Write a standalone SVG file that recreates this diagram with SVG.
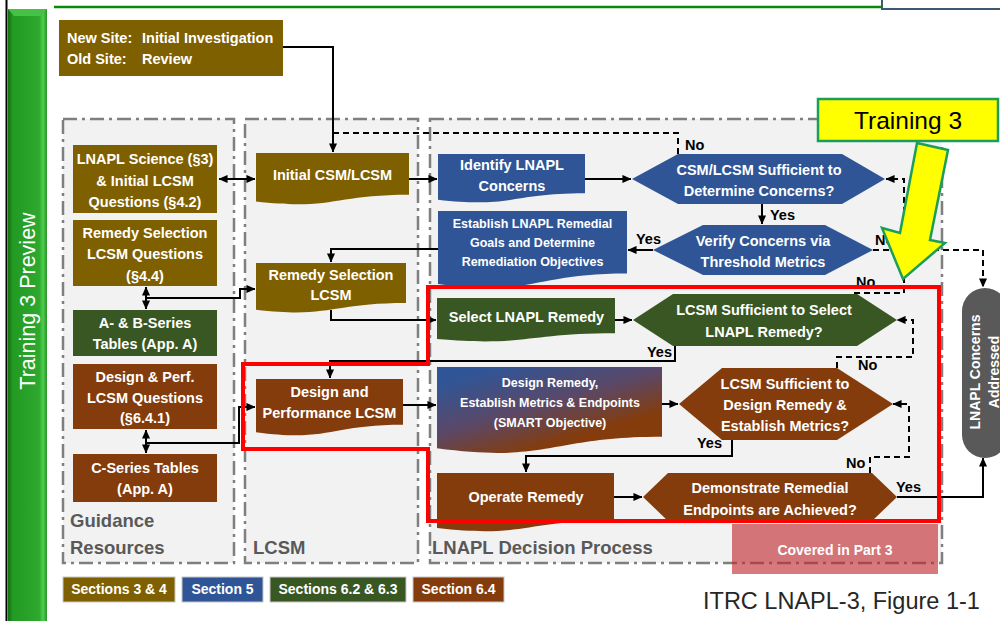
<svg xmlns="http://www.w3.org/2000/svg" width="1000" height="621" viewBox="0 0 1000 621">
<defs>
<marker id="ah" viewBox="0 0 10 10" refX="9.5" refY="5" markerWidth="9" markerHeight="9" markerUnits="userSpaceOnUse" orient="auto-start-reverse"><path d="M0,0.5 L10,5 L0,9.5 z" fill="#000"/></marker>
<linearGradient id="gbar" x1="0" y1="0" x2="1" y2="0">
<stop offset="0" stop-color="#136d13"/><stop offset="0.12" stop-color="#239a23"/><stop offset="0.8" stop-color="#2ea82e"/><stop offset="0.9" stop-color="#4dcf4d"/><stop offset="1" stop-color="#2a8f2a"/>
</linearGradient>
<linearGradient id="gdr" x1="0" y1="0" x2="0.75" y2="1">
<stop offset="0.12" stop-color="#2f5597"/><stop offset="0.5" stop-color="#5a4868"/><stop offset="0.82" stop-color="#843c0c"/>
</linearGradient>
</defs>
<style>
text{font-family:"Liberation Sans",Arial,sans-serif}
.o{fill:#7f6000}.b{fill:#2f5597}.g{fill:#385723}.r{fill:#843c0c}
.t{fill:#fff;font-weight:bold;font-size:14.5px;text-anchor:middle}
.ts{fill:#fff;font-weight:bold;font-size:12.5px;text-anchor:middle}
.c{stroke:#000;stroke-width:2;fill:none}
.d{stroke-dasharray:6 4}
.l{fill:#000;font-weight:bold;font-size:14.5px}
.p{fill:#f2f2f2;stroke:#7f7f7f;stroke-width:2.5;stroke-dasharray:14 5 3 5}
.pt{fill:#595959;font-size:18.5px;font-weight:bold}
.lg{stroke:#c8c8c8;stroke-width:1}
.lt{fill:#fff;font-weight:bold;font-size:14px;text-anchor:middle}
</style>
<rect width="1000" height="621" fill="#fff"/>
<!-- frame -->
<line x1="6.5" y1="0" x2="6.5" y2="621" stroke="#000" stroke-width="2"/>
<rect x="8" y="9" width="39" height="614" fill="url(#gbar)"/>
<polygon points="8,9 47,9 41,16 14,16" fill="#45c145"/>
<text transform="translate(35,301) rotate(-90)" text-anchor="middle" font-size="21.5" fill="#fff">Training 3 Preview</text>
<line x1="54" y1="7" x2="882" y2="7" stroke="#0a8a0a" stroke-width="2.5"/>
<rect x="882" y="-10" width="125" height="19" fill="#fff" stroke="#3d5a75" stroke-width="2"/>
<!-- panels -->
<g id="panels">
<rect class="p" x="63" y="119" width="171" height="444"/>
<rect class="p" x="245" y="119" width="173" height="444"/>
<rect class="p" x="430" y="119" width="512" height="444"/>
<text class="pt" x="70" y="527">Guidance</text>
<text class="pt" x="70" y="554">Resources</text>
<text class="pt" x="253" y="554">LCSM</text>
<text class="pt" x="432" y="554">LNAPL Decision Process</text>
</g>
<g id="covered">
<rect x="732" y="524" width="206" height="50" fill="#c0272d" fill-opacity="0.62"/>
<text class="lt" x="835" y="555">Covered in Part 3</text>
</g>
<!-- connectors -->
<g id="connectors">
<path class="c" d="M283,47 H333 V152" marker-end="url(#ah)"/>
<path class="c d" d="M678,154 V133 H333"/>
<path class="c" d="M219,179 H255" marker-start="url(#ah)" marker-end="url(#ah)"/>
<path class="c" d="M409,179 H437" marker-end="url(#ah)"/>
<path class="c" d="M585,179 H631" marker-end="url(#ah)"/>
<path class="c" d="M762,204 V224" marker-end="url(#ah)"/>
<path class="c" d="M653,250 H628" marker-end="url(#ah)"/>
<path class="c" d="M438,249 H331 V262" marker-end="url(#ah)"/>
<path class="c d" d="M873,250 H983 V287" marker-end="url(#ah)"/>
<path class="c" d="M146,287 V309" marker-start="url(#ah)" marker-end="url(#ah)"/>
<path class="c" d="M146,298 H240 V289 H255" marker-end="url(#ah)"/>
<path class="c" d="M331,310 V320 H436" marker-end="url(#ah)"/>
<path class="c" d="M615,320 H632" marker-end="url(#ah)"/>
<path class="c" d="M675,346 V361 H330 V378" marker-end="url(#ah)"/>
<path class="c d" d="M855,294 V293 H904 V179 H886" marker-end="url(#ah)"/>
<path class="c" d="M403,405 H436" marker-end="url(#ah)"/>
<path class="c" d="M662,404 H678" marker-end="url(#ah)"/>
<path class="c d" d="M837,368 V357 H913 V320 H897" marker-end="url(#ah)"/>
<path class="c" d="M732,440 V456 H526 V472" marker-end="url(#ah)"/>
<path class="c" d="M614,497 H642" marker-end="url(#ah)"/>
<path class="c d" d="M870,473 V457 H909 V404 H893" marker-end="url(#ah)"/>
<path class="c" d="M897,497 H983 V458" marker-end="url(#ah)"/>
<path class="c" d="M146,430 V453" marker-start="url(#ah)" marker-end="url(#ah)"/>
<path class="c" d="M146,443 H239 V407 H255" marker-end="url(#ah)"/>
<text class="l" x="685" y="150">No</text>
<text class="l" x="770" y="220">Yes</text>
<text class="l" x="636" y="244">Yes</text>
<text class="l" x="875" y="245">No</text>
<text class="l" x="856" y="287">No</text>
<text class="l" x="647" y="357">Yes</text>
<text class="l" x="858" y="370">No</text>
<text class="l" x="697" y="448">Yes</text>
<text class="l" x="846" y="468">No</text>
<text class="l" x="896" y="492">Yes</text>
</g>
<!-- nodes -->
<g id="newsite">
<rect class="o" x="59" y="20" width="224" height="56"/>
<text fill="#fff" font-weight="bold" font-size="14.5"><tspan x="67" y="43">New Site:</tspan><tspan x="142" y="43">Initial Investigation</tspan><tspan x="67" y="64">Old Site:</tspan><tspan x="142" y="64">Review</tspan></text>
</g>
<g id="lnaplscience">
<rect class="o" x="73" y="145" width="144" height="68"/>
<text class="t"><tspan x="145" y="164">LNAPL Science (§3)</tspan><tspan x="145" y="186">&amp; Initial LCSM</tspan><tspan x="145" y="207">Questions (§4.2)</tspan></text>
</g>
<g id="remedyq">
<rect class="o" x="73" y="220" width="144" height="66"/>
<text class="t"><tspan x="145" y="238">Remedy Selection</tspan><tspan x="145" y="259">LCSM Questions</tspan><tspan x="145" y="281">(§4.4)</tspan></text>
</g>
<g id="abseries">
<rect class="g" x="73" y="310" width="144" height="46"/>
<text class="t"><tspan x="145" y="328">A- &amp; B-Series</tspan><tspan x="145" y="349">Tables (App. A)</tspan></text>
</g>
<g id="designq">
<rect class="r" x="73" y="364" width="144" height="65"/>
<text class="t"><tspan x="145" y="382">Design &amp; Perf.</tspan><tspan x="145" y="403">LCSM Questions</tspan><tspan x="145" y="423">(§6.4.1)</tspan></text>
</g>
<g id="cseries">
<rect class="r" x="73" y="454" width="144" height="48"/>
<text class="t"><tspan x="145" y="473">C-Series Tables</tspan><tspan x="145" y="494">(App. A)</tspan></text>
</g>
<g id="initialcsm">
<path class="o" d="M256,153 H409 V194.7 C332.5,194.7 332.5,210.6 256,201.6 Z"/>
<text class="t" x="332.5" y="180">Initial CSM/LCSM</text>
</g>
<g id="remedylcsm">
<path class="o" d="M256,263 H406 V303.1 C331,303.1 331,318.4 256,309.7 Z"/>
<text class="t"><tspan x="331" y="280">Remedy Selection</tspan><tspan x="331" y="300">LCSM</tspan></text>
</g>
<g id="designlcsm">
<path class="r" d="M256,379 H403 V424.7 C329.5,424.7 329.5,442.1 256,432.2 Z"/>
<text class="t"><tspan x="329.5" y="397">Design and</tspan><tspan x="329.5" y="418">Performance LCSM</tspan></text>
</g>
<g id="identify">
<path class="b" d="M438,154 H585 V193.3 C511.5,193.3 511.5,208.2 438,199.8 Z"/>
<text class="t"><tspan x="512" y="170">Identify LNAPL</tspan><tspan x="512" y="191">Concerns</tspan></text>
</g>
<g id="establish">
<path class="b" d="M438,211 H627 V273.6 C532.5,273.6 532.5,297.3 438,283.9 Z"/>
<text class="ts"><tspan x="532.5" y="228">Establish LNAPL Remedial</tspan><tspan x="532.5" y="247">Goals and Determine</tspan><tspan x="532.5" y="266">Remediation Objectives</tspan></text>
</g>
<g id="select">
<path class="g" d="M437,298 H615 V333.3 C526,333.3 526,346.7 437,339.1 Z"/>
<text class="t" x="526.5" y="322">Select LNAPL Remedy</text>
</g>
<g id="designremedy">
<path fill="url(#gdr)" d="M437,367 H662 V436.8 C549.5,436.8 549.5,463.3 437,448.3 Z"/>
<text class="ts"><tspan x="550" y="387">Design Remedy,</tspan><tspan x="550" y="407">Establish Metrics &amp; Endpoints</tspan><tspan x="550" y="427">(SMART Objective)</tspan></text>
</g>
<g id="operate">
<path class="r" d="M437,473 H614 V520.3 C525.5,520.3 525.5,538.3 437,528.1 Z"/>
<text class="t" x="526" y="502">Operate Remedy</text>
</g>
<g id="hexcsm">
<polygon class="b" points="632,179 678,154 842,154 885,179 842,204 678,204"/>
<text class="t"><tspan x="759" y="175">CSM/LCSM Sufficient to</tspan><tspan x="759" y="196">Determine Concerns?</tspan></text>
</g>
<g id="hexverify">
<polygon class="b" points="653,250 703,225 825,225 873,250 825,275 703,275"/>
<text class="t"><tspan x="763" y="246">Verify Concerns via</tspan><tspan x="763" y="267">Threshold Metrics</tspan></text>
</g>
<g id="hexselect">
<polygon class="g" points="633,320 673,294 857,294 897,320 857,346 673,346"/>
<text class="t"><tspan x="764" y="315">LCSM Sufficient to Select</tspan><tspan x="764" y="337">LNAPL Remedy?</tspan></text>
</g>
<g id="hexdesign">
<polygon class="r" points="679,404 722,368 837,368 893,404 837,440 722,440"/>
<text class="t"><tspan x="785" y="389">LCSM Sufficient to</tspan><tspan x="785" y="410">Design Remedy &amp;</tspan><tspan x="785" y="431">Establish Metrics?</tspan></text>
</g>
<g id="hexdemo">
<polygon class="r" points="643,497 668,473 872,473 897,497 872,521 668,521"/>
<text class="t"><tspan x="770" y="493">Demonstrate Remedial</tspan><tspan x="770" y="515">Endpoints are Achieved?</tspan></text>
</g>
<g id="addressed">
<rect x="962" y="288" width="46" height="170" rx="23" fill="#595959"/>
<text class="lt" transform="translate(980,372) rotate(-90)">LNAPL Concerns</text>
<text class="lt" transform="translate(999,372) rotate(-90)">Addressed</text>
</g>
<!-- highlight -->
<polygon points="428,287 939,287 939,521 428,521 428,449 243,449 243,364 428,364" fill="none" stroke="#ff0000" stroke-width="4"/>
<!-- legend -->
<g id="legend">
<rect class="o lg" x="63" y="577" width="112" height="25"/>
<text class="lt" x="119" y="594">Sections 3 &amp; 4</text>
<rect class="b lg" x="182" y="577" width="81" height="25"/>
<text class="lt" x="222.5" y="594">Section 5</text>
<rect class="g lg" x="270" y="577" width="136" height="25"/>
<text class="lt" x="338" y="594">Sections 6.2 &amp; 6.3</text>
<rect class="r lg" x="413" y="577" width="91" height="25"/>
<text class="lt" x="458.5" y="594">Section 6.4</text>
</g>
<text x="703" y="609" font-size="23.5" fill="#262626">ITRC LNAPL-3, Figure 1-1</text>
<!-- callout -->
<g id="callout">
<polygon points="917,143 948,150 930,240 945,243 903,279 882,228 900,233" fill="#ffff00" stroke="#1a9e5a" stroke-width="2.5" stroke-linejoin="miter"/>
<rect x="818" y="99" width="180" height="42" fill="#ffff00" stroke="#1a9e5a" stroke-width="2.5"/>
<text x="908" y="129" text-anchor="middle" font-size="24.5" fill="#000">Training 3</text>
</g>
</svg>
